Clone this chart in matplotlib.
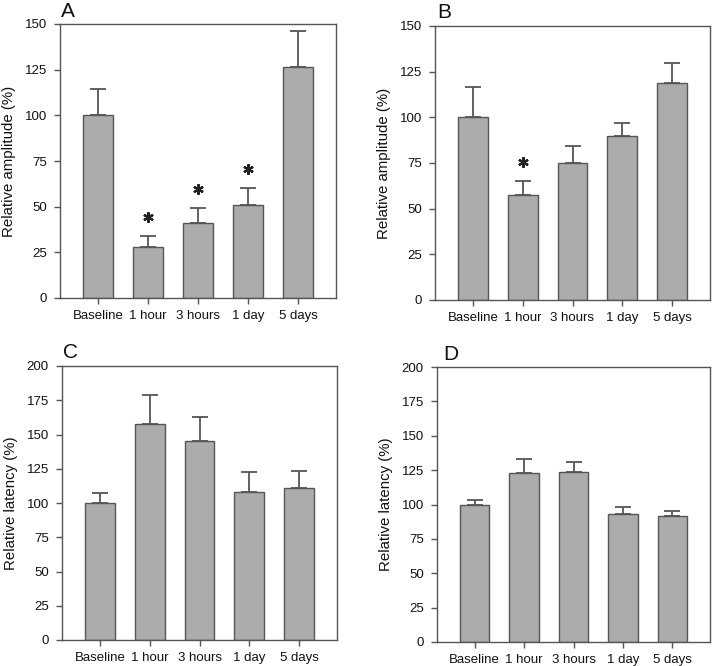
import matplotlib
matplotlib.use("Agg")
import matplotlib.pyplot as plt
import numpy as np

plt.rcParams['font.family'] = ['Liberation Sans', 'DejaVu Sans']

categories = ["Baseline", "1 hour", "3 hours", "1 day", "5 days"]

amp_A = [100, 28, 41, 51, 126.5]
amp_A_err = [14.5, 6, 8, 9, 19.5]
amp_A_sig = [False, True, True, True, False]

amp_B = [100, 57.5, 75, 90, 119]
amp_B_err = [16.5, 7.5, 9.5, 7, 10.5]
amp_B_sig = [False, True, False, False, False]

lat_C = [100, 158, 145, 108, 111]
lat_C_err = [7, 20.5, 18, 14.5, 12.5]
lat_C_sig = [False] * 5

lat_D = [100, 123, 124, 93, 92]
lat_D_err = [3.5, 10, 7, 5.5, 3.5]
lat_D_sig = [False] * 5

W, H = 718, 666
fig = plt.figure(figsize=(W / 100, H / 100), dpi=100)

edge = '#555555'
face = '#acacac'

panels = [
    ("A", amp_A, amp_A_err, amp_A_sig, "Relative amplitude (%)", 150, 25, (60, 24, 336, 298), (61, 17)),
    ("B", amp_B, amp_B_err, amp_B_sig, "Relative amplitude (%)", 150, 25, (435, 26, 710, 300), (437, 18)),
    ("C", lat_C, lat_C_err, lat_C_sig, "Relative latency (%)", 200, 25, (62, 366, 337, 640), (63, 358)),
    ("D", lat_D, lat_D_err, lat_D_sig, "Relative latency (%)", 200, 25, (437, 367, 710, 642), (443, 360)),
]

for letter, vals, errs, sig, ylabel, ymax, step, (l, t, r, b), (lx, ly) in panels:
    ax = fig.add_axes([l / W, (H - b) / H, (r - l) / W, (b - t) / H])
    x = np.arange(len(categories))
    ax.bar(x, vals, width=0.6, color=face, edgecolor=edge, linewidth=1.0, zorder=2)
    ax.errorbar(x, vals, yerr=[np.zeros(len(vals)), errs], fmt='none', ecolor=edge,
                elinewidth=1.3, capsize=5.5, capthick=1.3, zorder=1)
    for xi, v, e, s in zip(x, vals, errs, sig):
        if s:
            ax.plot([xi], [v + e + 10.5], marker=(6, 2, 0), ms=7.5, mew=1.6,
                    color='#222222', linestyle='none', zorder=3)
    ax.set_xlim(-0.76, len(categories) - 1 + 0.76)
    ax.set_ylim(0, ymax)
    ax.set_yticks(np.arange(0, ymax + 1, step))
    ax.set_xticks(x)
    ax.set_xticklabels(categories)
    ax.tick_params(axis='both', direction='out', length=4.5, width=1, color=edge,
                   labelsize=9.5, labelcolor='#111111', pad=5)
    ax.tick_params(axis='x', pad=4)
    for sp in ax.spines.values():
        sp.set_color(edge)
        sp.set_linewidth(1.0)
    ax.set_ylabel(ylabel, fontsize=10.8, color='#111111', labelpad=6)
    fig.text(lx / W, (H - ly) / H, letter, fontsize=15, ha='left', va='baseline', color='#111111')

fig.savefig("out.png", dpi=100)
